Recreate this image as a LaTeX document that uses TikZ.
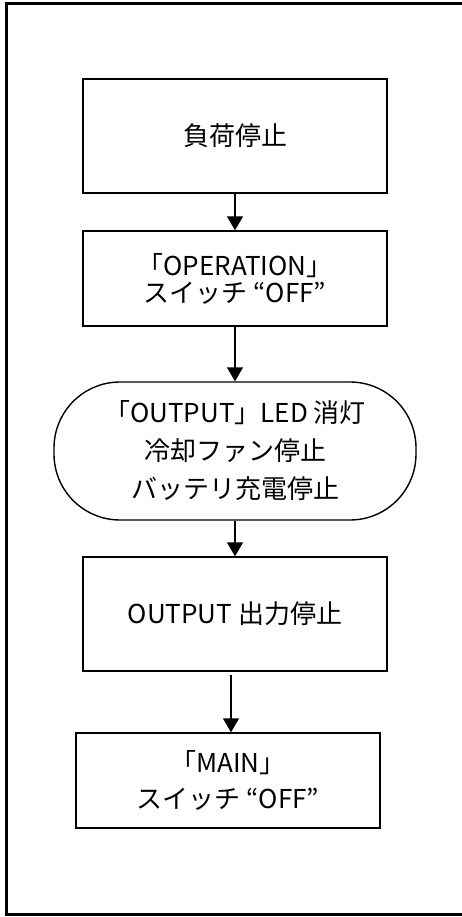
\documentclass[tikz,border=0pt]{standalone}
\usepackage{fontspec}
\setmainfont{Noto Sans CJK JP}
\usetikzlibrary{arrows.meta,calc}
\begin{document}
\begin{tikzpicture}[x=1pt,y=-1pt,
  stepbox/.style={draw, line width=1.4pt, align=center, inner sep=0pt, minimum width=304pt},
  txt/.style={font=\fontsize{26}{#1}\selectfont},
  flow/.style={line width=1.4pt, -{Triangle[width=16pt,length=14pt]}}]
\useasboundingbox (0,0) rectangle (461,917);
\draw[line width=2.4pt] (475,3.5) -- (6.5,3.5) -- (6.5,914.5) -- (475,914.5);
\node[stepbox, minimum height=114pt, txt=28] (b1) at (235,136) {負荷停止};
\node[stepbox, minimum height=95pt, txt=27] (b2) at (235,278.5) {「OPERATION」\\スイッチ “OFF”};
\node[stepbox, minimum width=362pt, minimum height=138pt, rounded corners=66pt, txt=38] (b3) at (235,451) {「OUTPUT」LED 消灯\\冷却ファン停止\\バッテリ充電停止};
\node[stepbox, minimum height=114pt, txt=28] (b4) at (235,614) {OUTPUT 出力停止};
\node[stepbox, minimum height=95pt, txt=36] (b5) at (228,780.5) {「MAIN」\\スイッチ “OFF”};
\draw[flow] (b1) -- (b2);
\draw[flow] (b2) -- (b3);
\draw[flow] (b3) -- (b4);
\draw[flow] ($(b4.south)+(-4,3)$) -- ($(b5.north)+(3,0)$);
\end{tikzpicture}
\end{document}
